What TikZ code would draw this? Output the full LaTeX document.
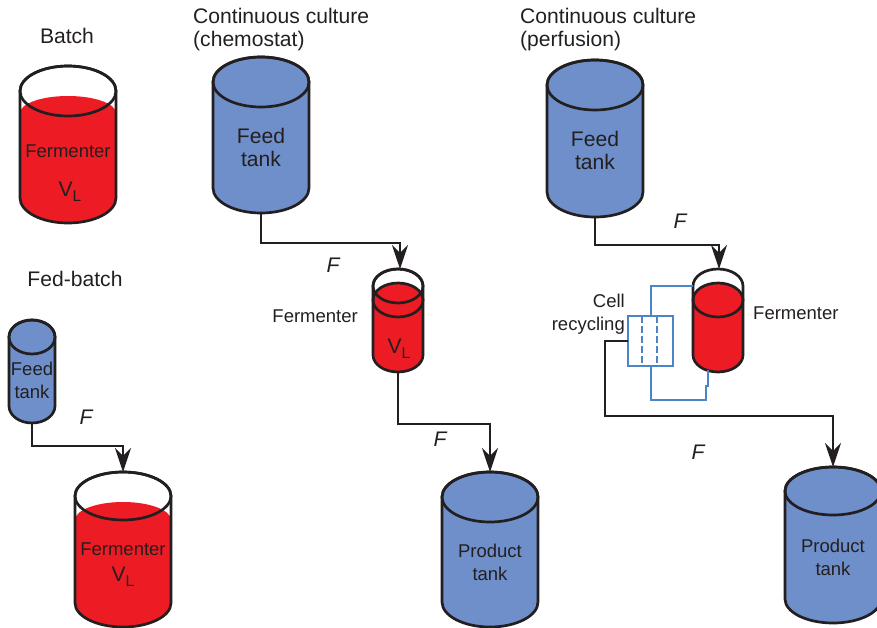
\documentclass[tikz,border=0pt]{standalone}
\usepackage{fontspec}
\setmainfont{Liberation Sans}
\usetikzlibrary{arrows.meta,positioning}

\definecolor{tankblue}{HTML}{6E8FC9}
\definecolor{brothred}{HTML}{ED1C24}
\definecolor{pipeblue}{HTML}{4A86C5}
\definecolor{inkdark}{HTML}{231F20}

\tikzset{
  tankline/.style={draw=inkdark, line width=2.7pt},
  tankbox/.style={inner sep=0pt, outer sep=0pt},
  pipe/.style={draw=inkdark, line width=2pt},
  flow/.style={pipe, -{Stealth[length=24pt, width=16pt, inset=8pt]}},
  loopline/.style={draw=pipeblue, line width=2pt},
  big/.style={font=\fontsize{21.1}{23}\selectfont, text=inkdark, align=center, inner sep=0pt},
  small/.style={font=\fontsize{18.5}{23}\selectfont, text=inkdark, align=center, inner sep=0pt},
  rate/.style={font=\fontsize{21.1}{23}\selectfont\itshape, text=inkdark, inner sep=0pt},
}

\newcommand{\volume}{V\raisebox{-.45ex}{\fontsize{15.5}{16}\selectfont L}}

% name, x, rim y, rx, ry, bottom y
\newcommand{\bluetank}[6]{
  \draw[tankline, fill=tankblue] ({#2-#4},#3) -- ({#2-#4},#6) arc (180:360:#4pt and #5pt) -- ({#2+#4},#3) arc (0:180:#4pt and #5pt) -- cycle;
  \draw[tankline] (#2,#3) ellipse (#4pt and #5pt);
  \node[tankbox, minimum width=2*#4pt, minimum height=#6pt-#3pt+2*#5pt] (#1) at ({#2},{(#3+#6)/2}) {};
}
% name, x, rim y, rx, ry, bottom y, liquid y, liquid ry
\newcommand{\fermenter}[8]{
  \fill[brothred] ({#2-#4},#7) arc (180:0:#4pt and #8pt) -- ({#2+#4},#6) arc (360:180:#4pt and #5pt) -- cycle;
  \draw[tankline] ({#2-#4},#3) -- ({#2-#4},#6) arc (180:360:#4pt and #5pt) -- ({#2+#4},#3) arc (0:180:#4pt and #5pt);
  \node[tankbox, minimum width=2*#4pt, minimum height=#6pt-#3pt+2*#5pt] (#1) at ({#2},{(#3+#6)/2}) {};
}

\begin{document}
\begin{tikzpicture}[x=1pt, y=-1pt]
\useasboundingbox (0,0) rectangle (877,628);

\fermenter{batch}{68}{91}{48}{25}{198}{113}{17}
\draw[tankline] (68,91) ellipse (48pt and 25pt);
\fermenter{fedferm}{123}{496}{48}{24}{603}{520}{18}
\draw[tankline] (123,496) ellipse (48pt and 24pt);
\bluetank{fedfeed}{32}{337}{23}{17}{406}

\bluetank{chemfeed}{261}{82}{48}{25}{188}
\fermenter{chemferm}{398}{286}{25}{17}{355}{300}{17}
\draw[tankline] (398,300) ellipse (25pt and 17pt);
\draw[tankline] (398,286) ellipse (25pt and 17pt);
\bluetank{chemprod}{490}{497}{48}{25}{602}

\bluetank{perffeed}{595}{85}{48}{25}{192}
\fermenter{perfferm}{718}{286}{25}{17}{355}{300}{17}
\draw[tankline] (718,300) ellipse (25pt and 17pt);
\bluetank{perfprod}{833}{491}{48}{24}{599}

\node[tankbox, loopline, minimum width=45pt, minimum height=50pt] (membrane) at (650.5,341) {};
\draw[loopline, dash pattern=on 7pt off 3pt] ([xshift=-8.5pt]membrane.north) -- ([xshift=-8.5pt]membrane.south);
\draw[loopline, dash pattern=on 7pt off 3pt] ([xshift=6.5pt]membrane.north) -- ([xshift=6.5pt]membrane.south);
\draw[loopline] (membrane.north) |- ([yshift=34.5pt]perfferm.west);
\coordinate (jog) at (706,400);
\draw[loopline] (membrane.south) |- (jog) -- ++(0,-14) -- ++(2,0) -- ([xshift=-10pt, yshift=2pt]perfferm.south);

\draw[flow] (fedfeed.south) -- ++(0,23) -| (fedferm.north);
\draw[flow] (chemfeed.south) -- ++(0,30) -| ([xshift=2pt]chemferm.north);
\draw[flow] (chemferm.south) -- ++(0,52) -| (chemprod.north);
\draw[flow] (perffeed.south) -- ++(0,28) -| ([xshift=1pt]perfferm.north);
\draw[flow] (membrane.west) -- ++(-23,0) -- ++(0,75) -| (perfprod.north);

\node[big] (batchtitle) at (67,36) {Batch};
\node[big] (fedtitle) at (75,279) {Fed-batch};
\node[big, align=left, anchor=west] (chemtitle) at (193,30) {Continuous culture\\(chemostat)};
\node[big, align=left, anchor=west] (perftitle) at (520,30) {Continuous culture\\(perfusion)};

\node[small] (batchname) at (68,151) {Fermenter};
\node[big] (batchvol) at (70,192) {\volume};
\node[small] (fedname) at (123,549) {Fermenter};
\node[big] (fedvol) at (123,577) {\volume};
\node[small] (fedfeedname) at (32,380) {Feed\\tank};
\node[big] (chemfeedname) at (261,147) {Feed\\tank};
\node[big] (chemvol) at (399,349) {\volume};
\node[small] (chemprodname) at (490,562) {Product\\tank};
\node[big] (perffeedname) at (595,150) {Feed\\tank};
\node[small] (perfprodname) at (833,557) {Product\\tank};

\node[small, left=15pt of chemferm, yshift=4pt] (chemname) {Fermenter};
\node[small, right=10pt of perfferm, yshift=7pt] (perfname) {Fermenter};
\node[small, align=right, anchor=east] (recycle) at (625,314) {Cell\\recycling};

\node[rate] (rateA) at (86,417) {F};
\node[rate] (rateB) at (333,265) {F};
\node[rate] (rateC) at (440,439) {F};
\node[rate] (rateD) at (680,221) {F};
\node[rate] (rateE) at (698,452) {F};

\end{tikzpicture}
\end{document}
